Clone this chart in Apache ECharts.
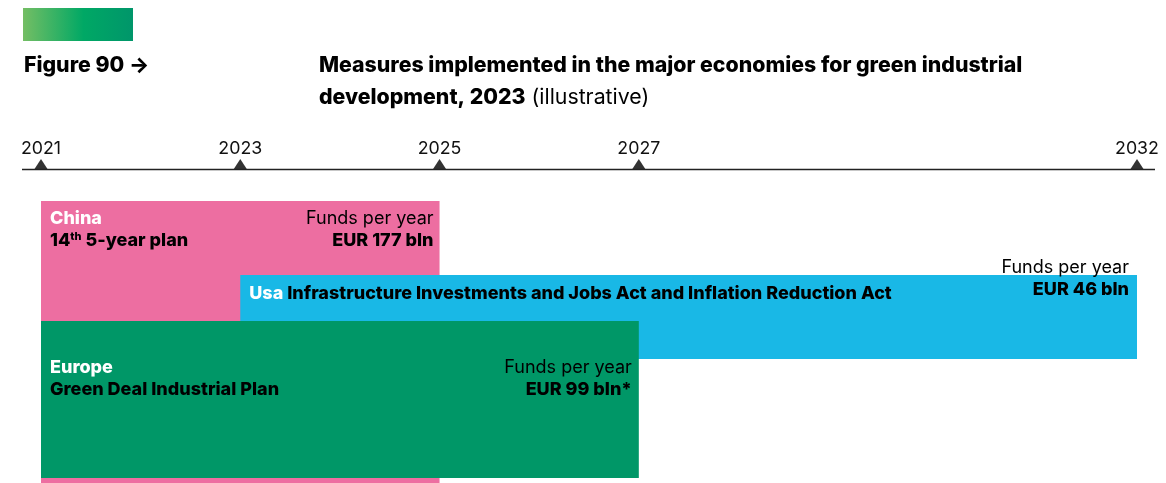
<!DOCTYPE html>
<html>
<head>
<meta charset="utf-8">
<script src="https://cdn.jsdelivr.net/npm/echarts@6/dist/echarts.min.js"></script>
<style>
  html, body { margin: 0; padding: 0; background: #ffffff; }
  #chart { width: 1166px; height: 483px; }
</style>
</head>
<body>
<div id="chart"></div>
<script>
// ---- data ----
const tickYears = [2021, 2023, 2025, 2027, 2032];
const regions = ['China', 'Usa', 'Europe'];
const planOrdinal = ['14', '', ''];
const planNames = ['5-year plan', 'Infrastructure Investments and Jobs Act and Inflation Reduction Act', 'Green Deal Industrial Plan'];
const startYears = [2021, 2023, 2021];
const endYears = [2025, 2032, 2027];
const fundsPerYearBln = [177, 46, 99];
const fundsNote = ['', '', '*'];

// ---- layout / style (pixel offsets, not data) ----
const FONT = 'Inter, "Noto Sans", sans-serif';
const colors = ['#ED6EA1', '#19B8E6', '#009767'];
const rowTop = [32, 106, 152];       // px below the axis line
const rowBottom = [314, 190, 309];
const leftTextDy = [7, 8, 36];
const rightTextDy = [7, -18, 36];
const rightPad = [6, 8, 7];
const BODY = 18;
const HEAVY = 800;

const chart = echarts.init(document.getElementById('chart'), null, { renderer: 'canvas' });

const rich = {
  w: { fill: '#ffffff', fontWeight: HEAVY, fontSize: BODY, fontFamily: FONT, lineHeight: 22 },
  b: { fill: '#000000', fontWeight: HEAVY, fontSize: BODY, fontFamily: FONT, lineHeight: 22 },
  sup: { fill: '#000000', fontWeight: HEAVY, fontSize: 11, fontFamily: FONT, lineHeight: 22, padding: [0, 0, 9, 0] },
  r: { fill: '#000000', fontWeight: 'normal', fontSize: BODY, fontFamily: FONT, lineHeight: 22 }
};

function leftText(i) {
  const plan = planOrdinal[i]
    ? '{b|' + planOrdinal[i] + '}{sup|th}{b| ' + planNames[i] + '}'
    : '{b|' + planNames[i] + '}';
  if (i === 1) return '{w|' + regions[i] + '}{b| ' + planNames[i] + '}';
  return '{w|' + regions[i] + '}\n' + plan;
}
function rightText(i) {
  return '{r|Funds per year}\n{b|EUR ' + fundsPerYearBln[i] + ' bln' + fundsNote[i] + '}';
}

const option = {
  animation: false,
  backgroundColor: '#ffffff',
  grid: { left: 41, right: 29, top: 169, bottom: 0, containLabel: false },
  xAxis: {
    type: 'value', position: 'top', min: 2021, max: 2032,
    axisLine: { show: false }, axisTick: { show: false }, splitLine: { show: false },
    axisLabel: {
      customValues: tickYears, formatter: v => String(v), margin: 11,
      color: '#111111', fontSize: 17.8, fontFamily: FONT
    }
  },
  yAxis: { type: 'value', inverse: true, min: 0, max: 314, show: false },
  graphic: [
    { type: 'rect', left: 23, top: 8, z: 10, shape: { width: 110, height: 33 },
      style: { fill: new echarts.graphic.LinearGradient(0, 0, 1, 0, [
        { offset: 0, color: '#74BE64' }, { offset: 0.55, color: '#00A865' }, { offset: 1, color: '#00966A' }]) } },
    { type: 'text', left: 24, top: 55, z: 10,
      style: { text: 'Figure 90 →', fill: '#000', font: HEAVY + ' 21.3px ' + FONT } },
    { type: 'text', left: 319, top: 55, z: 10,
      style: { text: 'Measures implemented in the major economies for green industrial', fill: '#000', font: HEAVY + ' 21.3px ' + FONT } },
    { type: 'text', left: 319, top: 87, z: 10,
      style: { text: '{t|development, 2023}{n| (illustrative)}', rich: {
        t: { fontWeight: HEAVY, fontSize: 21.3, fontFamily: FONT, fill: '#000' },
        n: { fontWeight: 'normal', fontSize: 21.3, fontFamily: FONT, fill: '#000' } } } },
    { type: 'line', z: 10, shape: { x1: 22, y1: 169.5, x2: 1155, y2: 169.5 },
      style: { stroke: '#222222', lineWidth: 1.5 } }
  ],
  series: [
    {
      type: 'custom',
      coordinateSystem: 'cartesian2d',
      encode: { x: [0, 1] },
      z: 2,
      clip: false,
      data: startYears.map((s, i) => [s, endYears[i]]),
      renderItem: function (params, api) {
        const i = params.dataIndex;
        const p0 = api.coord([api.value(0), rowTop[i]]);
        const p1 = api.coord([api.value(1), rowBottom[i]]);
        return {
          type: 'group',
          children: [
            { type: 'rect', shape: { x: p0[0], y: p0[1], width: p1[0] - p0[0], height: p1[1] - p0[1] },
              style: { fill: colors[i] } },
            { type: 'text', x: p0[0] + 9, y: p0[1] + leftTextDy[i],
              style: { text: leftText(i), rich: rich, align: 'left', verticalAlign: 'top' } },
            { type: 'text', x: p1[0] - rightPad[i], y: p0[1] + rightTextDy[i],
              style: { text: rightText(i), rich: rich, align: 'right', verticalAlign: 'top' } }
          ]
        };
      }
    },
    {
      type: 'scatter',
      z: 5,
      symbol: 'triangle',
      symbolSize: [13, 10],
      symbolOffset: [0, -5],
      itemStyle: { color: '#000000' },
      data: tickYears.map(y => [y, 0])
    }
  ]
};
chart.setOption(option);
</script>
</body>
</html>
